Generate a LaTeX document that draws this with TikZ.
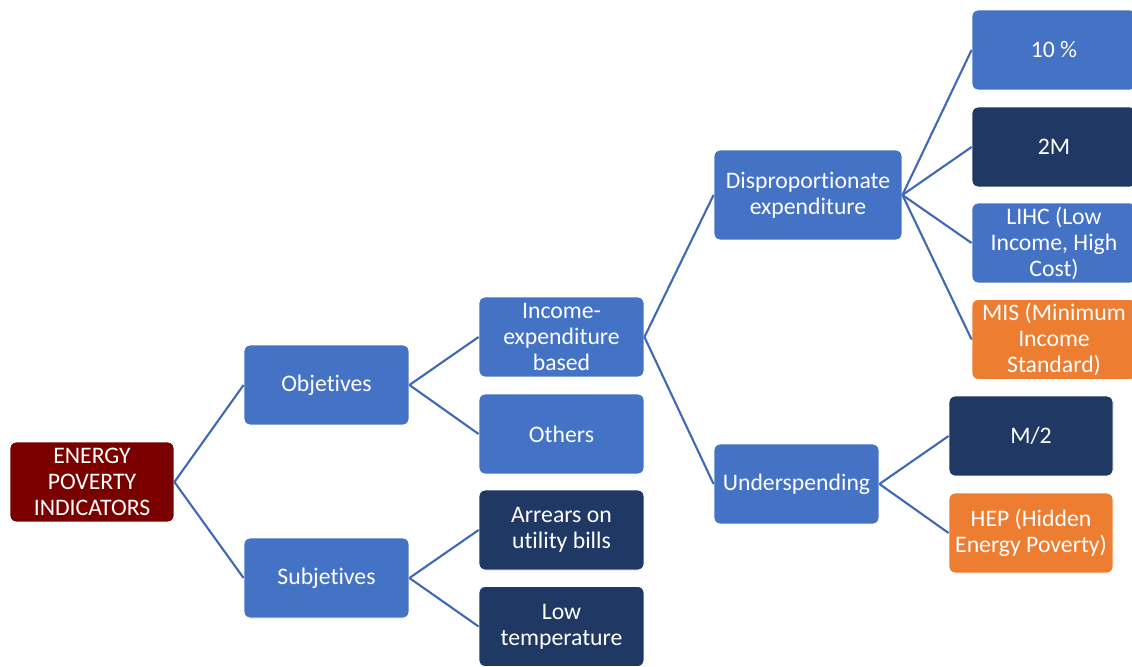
\documentclass[tikz,border=0pt]{standalone}
\usepackage{fontspec}
\setmainfont{Carlito}[RawFeature={-liga;-calt;-clig}]
\definecolor{boxblue}{HTML}{4472C4}
\definecolor{boxnavy}{HTML}{203864}
\definecolor{boxorange}{HTML}{ED7D31}
\definecolor{boxred}{HTML}{7A0000}
\definecolor{linkblue}{HTML}{3F68B5}
\begin{document}
\begin{tikzpicture}[x=0.02cm, y=-0.02cm,
    box/.style={rectangle, rounded corners=0.12cm, draw=white, line width=0.5pt,
        text=white, align=center, minimum width=3.3cm, minimum height=1.6cm,
        inner sep=2pt, font=\fontsize{13.5}{14.8}\selectfont},
    link/.style={draw=linkblue, line width=1.2pt}]
    \useasboundingbox (0,0) rectangle (1132,666);
    %\fill (1132,666) circle (0.1pt);
    \node[box, fill=boxred, minimum width=3.28cm] (root) at (92,482) {ENERGY\\POVERTY\\INDICATORS};
    \node[box, fill=boxblue] (obj) at (326.5,385) {Objetives};
    \node[box, fill=boxblue] (subj) at (326.5,578) {Subjetives};
    \node[box, fill=boxblue] (income) at (561.5,337) {Income-\\expenditure\\based};
    \node[box, fill=boxblue] (others) at (561.5,434) {Others};
    \node[box, fill=boxnavy] (arrears) at (561.5,530) {Arrears on\\utility bills};
    \node[box, fill=boxnavy] (lowtemp) at (561.5,626.5) {Low\\temperature};
    \node[box, fill=boxblue, minimum width=3.76cm, minimum height=1.8cm] (dispro) at (808,195) {Disproportionate\\expenditure};
    \node[box, fill=boxblue] (under) at (796.5,484) {Underspending};
    \node[box, fill=boxblue, minimum width=3.28cm] (ten) at (1054,50) {10 \%};
    \node[box, fill=boxnavy, minimum width=3.28cm] (twom) at (1054,147) {2M};
    \node[box, fill=boxblue, minimum width=3.28cm] (lihc) at (1054,243) {LIHC (Low\\Income, High\\Cost)};
    \node[box, fill=boxorange, minimum width=3.28cm] (mis) at (1054,339.5) {MIS (Minimum\\Income\\Standard)};
    \node[box, fill=boxnavy, minimum width=3.28cm] (mhalf) at (1031,436) {M/2};
    \node[box, fill=boxorange, minimum width=3.28cm] (hep) at (1031,533) {HEP (Hidden\\Energy Poverty)};
    \draw[link] (root.east) -- (obj.west);
    \draw[link] (root.east) -- (subj.west);
    \draw[link] (obj.east) -- (income.west);
    \draw[link] (obj.east) -- (others.west);
    \draw[link] (subj.east) -- (arrears.west);
    \draw[link] (subj.east) -- (lowtemp.west);
    \draw[link] (income.east) -- (dispro.west);
    \draw[link] (income.east) -- (under.west);
    \draw[link] (dispro.east) -- (ten.west);
    \draw[link] (dispro.east) -- (twom.west);
    \draw[link] (dispro.east) -- (lihc.west);
    \draw[link] (dispro.east) -- (mis.west);
    \draw[link] (under.east) -- (mhalf.west);
    \draw[link] (under.east) -- (hep.west);
\end{tikzpicture}
\end{document}
